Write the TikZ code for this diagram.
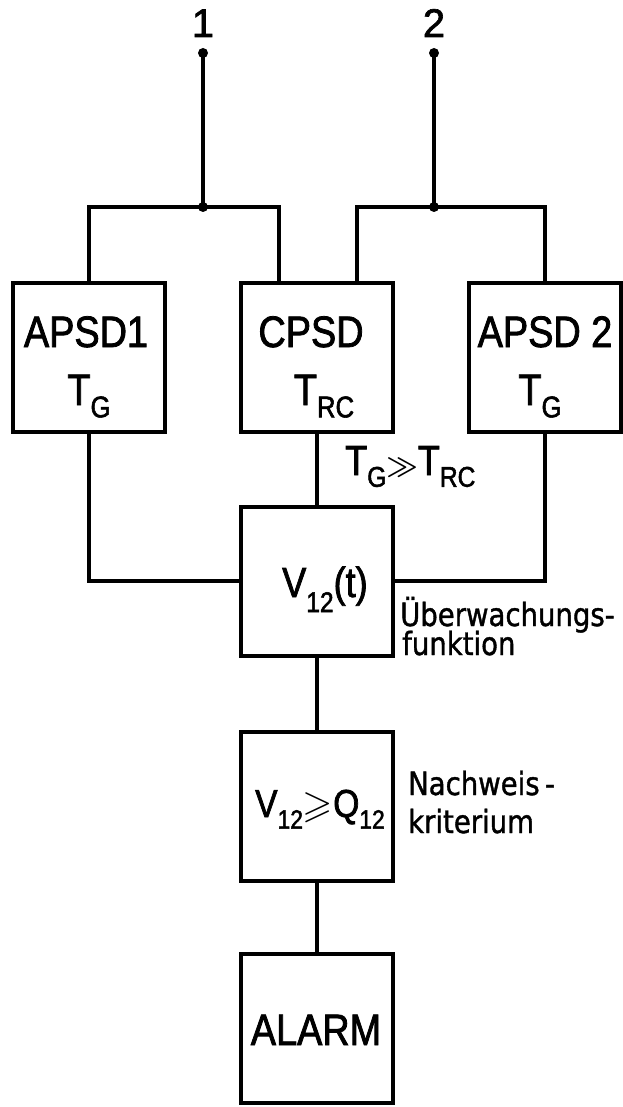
\documentclass[tikz,border=0pt]{standalone}
\usepackage{graphicx}
\usepackage{amsmath,amssymb}
\usepackage{fontspec}
\setmainfont[FakeBold=1.6]{Liberation Sans}
\newfontfamily\boxfont[FakeStretch=0.86,FakeBold=1.8]{Liberation Sans}
\newfontfamily\sidefont[FakeStretch=0.86,FakeBold=1.2]{DejaVu Sans}
\newcommand\lsub[2][0.28em]{\raisebox{-#1}{\scalebox{0.68}{#2}}}
\begin{document}
\begin{tikzpicture}[x=1pt,y=-1pt,
  blk/.style={draw, line width=4pt, minimum width=152pt, minimum height=149pt, inner sep=0pt, outer sep=0pt},
  wire/.style={line width=4pt},
  dotn/.style={circle, fill, inner sep=0pt, minimum size=10pt},
  btext/.style={font=\boxfont\fontsize{44}{50}\selectfont, anchor=base, inner sep=0pt},
  ttext/.style={font=\boxfont\fontsize{42}{50}\selectfont, anchor=base west, inner sep=0pt},
  stext/.style={font=\sidefont\fontsize{32}{34}\selectfont, anchor=base west, inner sep=0pt},
  ntext/.style={font=\fontsize{40}{42}\selectfont, anchor=base, inner sep=0pt}]
\useasboundingbox (0,0) rectangle (623,1107);

% boxes
\node[blk] (apsd1) at (89,357.5) {};
\node[blk] (cpsd) at (317,357.5) {};
\node[blk] (apsd2) at (545,357.5) {};
\node[blk] (v12) at (317,581) {};
\node[blk] (crit) at (317,806) {};
\node[blk] (alarm) at (317,1028.5) {};

% terminals and junctions
\node[dotn] (in1) at (203,53) {};
\node[dotn] (in2) at (434,53) {};
\node[dotn] (j1) at (203,207) {};
\node[dotn] (j2) at (434,207) {};

% wires
\draw[wire] (in1.center) -- (j1.center);
\draw[wire] (in2.center) -- (j2.center);
\draw[wire] (apsd1.north) |- (j1.center) -| ([xshift=38pt]cpsd.north west);
\draw[wire] ([xshift=-36pt]cpsd.north east) |- (j2.center) -| (apsd2.north);
\draw[wire] (apsd1.south) |- (v12.west);
\draw[wire] (apsd2.south) |- (v12.east);
\draw[wire] (cpsd.south) -- (v12.north);
\draw[wire] (v12.south) -- (crit.north);
\draw[wire] (crit.south) -- (alarm.north);

% labels
\node[ntext] (l1) at (203,37) {1};
\node[ntext] (l2) at (434,37) {2};

\node[btext] (t1a) at (86,347) {APSD1};
\node[btext] (t1b) at (89,405) {T\lsub{G}};
\node[btext] (t2a) at (311,347) {CPSD};
\node[btext] (t2b) at (324,405) {T\lsub{RC}};
\node[btext] (t3a) at (545,347) {APSD 2};
\node[btext] (t3b) at (540,405) {T\lsub{G}};

\node[ttext] (tcmp) at (345,475) {T\lsub{G}\raisebox{1pt}{\scalebox{1.1}{$\boldsymbol{\gg}$}}T\lsub{RC}};
\node[ttext] (tv) at (282,597) {V\lsub[0.36em]{12}(t)};
\node[ttext, font=\boxfont\fontsize{39}{44}\selectfont] (tq) at (255,817) {V\lsub[0.3em]{12}$\geqslant$Q\lsub[0.3em]{12}};
\node[btext] (tal) at (316,1045) {ALARM};

\node[stext] (s1) at (400,626) {Überwachungs-};
\node[stext] (s2) at (402,655) {funktion};
\node[stext] (s3) at (408,795) {Nachweis\,-};
\node[stext] (s4) at (408,833) {kriterium};
\end{tikzpicture}
\end{document}
